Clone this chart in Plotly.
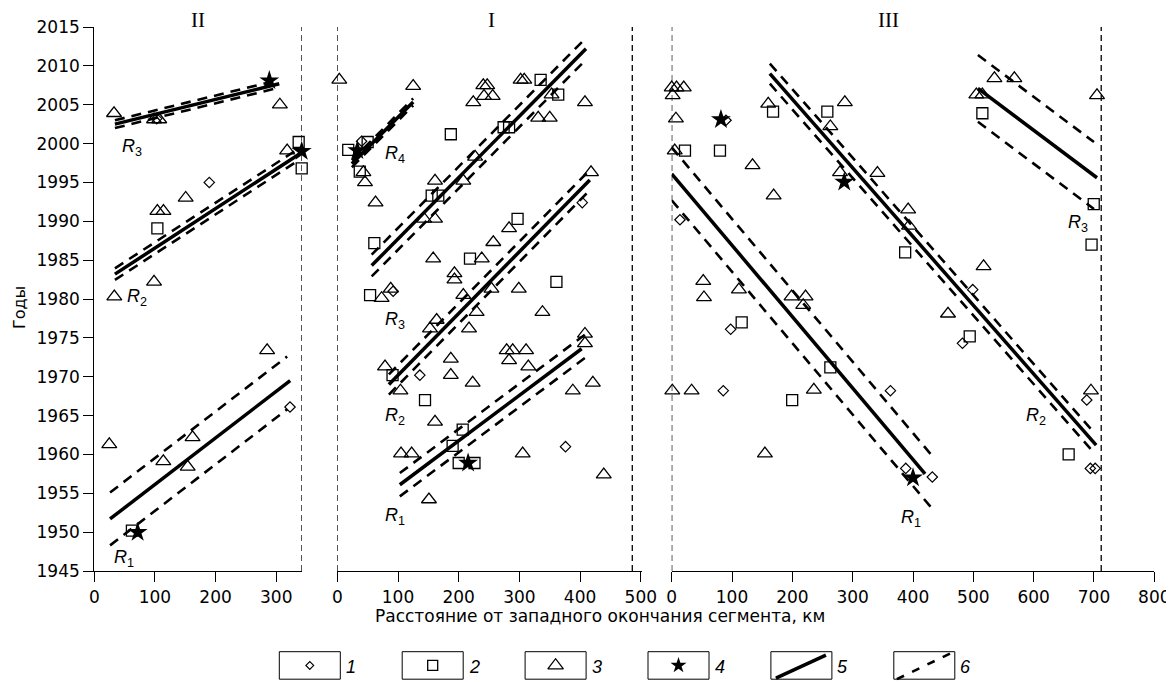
import plotly.graph_objects as go

W, H = 1174, 682          # reference picture size
OFF = 8                   # page body margin of the browser
FW, FH = W - OFF, H - OFF  # figure size


def fx(x):
    return (x - OFF) / FW


def fy(y):
    return 1 - (y - OFF) / FH


# ---------------- data (km from western end of segment, year) ----------------
# Panel II
II_diam_x = [103, 189.6, 322.7]
II_diam_y = [2003.2, 1995.0, 1966.1]
II_sq_x = [104, 337, 342, 62]
II_sq_y = [1989.1, 2000.2, 1996.8, 1950.2]
II_tri_x = [32.5, 98.5, 107, 306, 318, 356, 349, 150.7, 104, 114, 98.5, 33, 285, 162, 24.7, 113.8, 154]
II_tri_y = [2003.9, 2003.1, 2003.1, 2005.0, 1999.1, 1996.3, 1995.3, 1993.0, 1991.3, 1991.3,
            1982.2, 1980.3, 1973.4, 1962.2, 1961.3, 1959.1, 1958.4]
II_star_x = [288.6, 342, 71.5]
II_star_y = [2008.1, 1999.0, 1950.0]

# Panel I
I_diam_x = [40, 92, 136, 403.6, 376]
I_diam_y = [2000.3, 1981.0, 1970.2, 1992.4, 1961.0]
I_sq_x = [18, 50, 37, 61, 54, 187, 274, 283, 335, 364, 155.5, 166.4, 297, 218.6, 361, 91, 144.5, 206.6, 190, 200, 226]
I_sq_y = [1999.2, 2000.2, 1996.4, 1987.2, 1980.5, 2001.2, 2002.1, 2002.1, 2008.2, 2006.3, 1993.3, 1993.3,
          1990.3, 1985.2, 1982.2, 1970.2, 1967.0, 1963.2, 1961.1, 1958.9, 1958.9]
I_tri_x = [3.3, 125, 43, 45.6, 63, 158, 73, 88, 240.5, 247, 241.7, 256, 224, 302, 308, 353, 408, 331, 350,
           227, 161, 207.6, 143, 161, 418, 283, 257, 238, 193, 193, 254, 299, 207.6, 229.6, 338, 163.7,
           152.7, 217, 279, 289, 311, 283, 314.7, 187, 187, 78.6, 223, 104, 388, 421, 161, 105, 122.5,
           305.4, 439, 151, 408, 408]
I_tri_y = [2008.2, 2007.4, 1996.3, 1995.0, 1992.4, 1985.2, 1980.1, 1981.3, 2007.5, 2007.5, 2006.1, 2006.1,
           2005.3, 2008.2, 2008.2, 2006.3, 2005.3, 2003.3, 2003.3, 1998.3, 1995.2, 1995.2, 1990.3, 1990.3,
           1996.3, 1989.1, 1987.3, 1985.2, 1983.3, 1982.5, 1981.3, 1981.3, 1980.5, 1978.3, 1978.3, 1977.3,
           1976.2, 1976.2, 1973.4, 1973.4, 1973.4, 1972.1, 1971.3, 1972.3, 1970.2, 1971.3, 1969.2, 1968.2,
           1968.2, 1969.2, 1964.2, 1960.1, 1960.1, 1960.1, 1957.4, 1954.2, 1975.5, 1974.3]
I_star_x = [33, 215.5]
I_star_y = [1999.1, 1958.9]

# Panel III
III_diam_x = [90, 13.7, 97.7, 85.5, 362.6, 388, 432, 499, 482, 688, 694, 702]
III_diam_y = [2003.0, 1990.2, 1976.1, 1968.2, 1968.2, 1958.2, 1957.1, 1981.2, 1974.3, 1967.0, 1958.2, 1958.2]
III_sq_x = [22, 80, 168, 258, 387, 116, 515, 699.6, 696, 263, 199.7, 494, 658]
III_sq_y = [1999.1, 1999.1, 2004.1, 2004.1, 1986.0, 1977.0, 2003.9, 1992.2, 1987.0, 1971.2, 1967.0, 1975.2, 1960.0]
III_tri_x = [0, 8, 20, 1.6, 7, 5, 134, 169, 160, 287, 263, 279, 341, 392, 393.4, 517, 458, 198.7, 221.9, 218,
             52.3, 53.5, 111.4, 505, 515, 535, 568, 705, 1, 33, 235.6, 154.5, 695]
III_tri_y = [2007.2, 2007.2, 2007.2, 2006.2, 2003.2, 1999.1, 1997.2, 1993.3, 2005.1, 2005.3, 2002.2, 1996.3,
             1996.2, 1991.5, 1989.4, 1984.2, 1978.1, 1980.3, 1980.3, 1979.2, 1982.3, 1980.2, 1981.2, 2006.3,
             2006.3, 2008.4, 2008.4, 2006.2, 1968.2, 1968.2, 1968.3, 1960.1, 1968.2]
III_star_x = [81.6, 286, 400]
III_star_y = [2003.1, 1995.05, 1957.0]

# Segment boundaries (dashed verticals)
II_bounds = [342]
I_bounds = [0, 486]
III_bounds = [0, 712]

# Migration trends R (solid) and confidence band (dashed)
trend_panel = ['II', 'II', 'II', 'I', 'I', 'I', 'I', 'III', 'III', 'III']
trend_x0 = [26, 34, 34, 24, 56.6, 85, 103, 0, 162.7, 507.6]
trend_x1 = [323, 337, 305, 125, 409.7, 416, 402.6, 420, 703.6, 705]
trend_y0 = [1951.7, 1983.2, 2002.5, 1997.4, 1984.3, 1969.0, 1956.1, 1996.1, 2009.0, 2007.1]
trend_y1 = [1969.5, 1998.6, 2007.7, 2005.35, 2012.2, 1995.3, 1973.6, 1957.5, 1961.2, 1995.6]
band = [3.4, 0.75, 0.5, 0.45, 1.4, 1.3, 1.5, 3.4, 1.3, 4.3]
band_x0 = [26, 34, 34, 24, 56.6, 85, 103, 0, 162.7, 507.6]
band_x1 = [318, 337, 305, 125, 409.7, 416, 415, 432, 700, 700]

# R labels
lab_panel = ['II', 'II', 'II', 'I', 'I', 'I', 'I', 'III', 'III', 'III']
lab_text = ['1', '2', '3', '4', '3', '2', '1', '1', '2', '3']
lab_x = [49, 70.5, 61.7, 94.5, 94.5, 94.5, 94.5, 397, 604, 672.7]
lab_y = [1946.6, 1980.2, 1999.5, 1998.6, 1977.2, 1964.9, 1952.0, 1951.8, 1964.9, 1989.7]

panel_titles = ['II', 'I', 'III']
x_ticks = [[0, 100, 200, 300], [0, 100, 200, 300, 400, 500], [0, 100, 200, 300, 400, 500, 600, 700, 800]]
y_ticks = list(range(1945, 2016, 5))
legend_labels = ['1', '2', '3', '4', '5', '6']

# ---------------- figure ----------------
axmap = {'II': 'x', 'I': 'x2', 'III': 'x3'}
data = {
    'II': (II_diam_x, II_diam_y, II_sq_x, II_sq_y, II_tri_x, II_tri_y, II_star_x, II_star_y, II_bounds),
    'I': (I_diam_x, I_diam_y, I_sq_x, I_sq_y, I_tri_x, I_tri_y, I_star_x, I_star_y, I_bounds),
    'III': (III_diam_x, III_diam_y, III_sq_x, III_sq_y, III_tri_x, III_tri_y, III_star_x, III_star_y, III_bounds),
}

fig = go.Figure()
BLACK = 'black'

sty = {
    'diam': dict(symbol='diamond-open', size=8, color=BLACK, line=dict(width=1.2, color=BLACK)),
    'sq': dict(symbol='square-open', size=11, color=BLACK, line=dict(width=1.3, color=BLACK)),
    'tri': dict(symbol='triangle-up-open', size=13, color=BLACK, line=dict(width=1.3, color=BLACK)),
    'star': dict(symbol='star', size=15, color=BLACK, line=dict(width=0, color=BLACK)),
}

# boundaries
for p, (dx, dy, sx, sy, tx, ty, stx, sty_, bnd) in data.items():
    for b in bnd:
        fig.add_trace(go.Scatter(x=[b, b], y=[1945, 2015.3], mode='lines', xaxis=axmap[p], yaxis='y',
                                 line=dict(color=BLACK, width=1.3, dash='6px,4px'), cliponaxis=False,
                                 hoverinfo='skip'))

# trend lines
for i, p in enumerate(trend_panel):
    slope = (trend_y1[i] - trend_y0[i]) / (trend_x1[i] - trend_x0[i])
    fig.add_trace(go.Scatter(x=[trend_x0[i], trend_x1[i]], y=[trend_y0[i], trend_y1[i]], mode='lines',
                             xaxis=axmap[p], yaxis='y', line=dict(color=BLACK, width=3.5),
                             cliponaxis=False, hoverinfo='skip'))
    for s in (1, -1):
        xs = [band_x0[i], band_x1[i]]
        ys = [trend_y0[i] + (xv - trend_x0[i]) * slope + s * band[i] for xv in xs]
        fig.add_trace(go.Scatter(x=xs, y=ys, mode='lines', xaxis=axmap[p], yaxis='y',
                                 line=dict(color=BLACK, width=2.6, dash='10px,7px'),
                                 cliponaxis=False, hoverinfo='skip'))

# points
for p, (dx, dy, sx, sy, tx, ty, stx, sty_, bnd) in data.items():
    for xs, ys, key in ((dx, dy, 'diam'), (sx, sy, 'sq'), (tx, ty, 'tri'), (stx, sty_, 'star')):
        fig.add_trace(go.Scatter(x=xs, y=ys, mode='markers', xaxis=axmap[p], yaxis='y',
                                 marker=sty[key], cliponaxis=False, hoverinfo='skip'))

# ---------------- legend (pixel overlay axis, reference pixel coords) ----------------
box_w, box_h = 61, 27.5
box_left0, box_step, box_top = 279.3, 122.9, 651.7
legend_keys = ['diam', 'sq', 'tri', 'star', 'solid', 'dash']
leg_sizes = {'diam': 6, 'sq': 10, 'tri': 13.5, 'star': 12}
shapes = []
annotations = []
for k, key in enumerate(legend_keys):
    x0 = box_left0 + k * box_step
    cx, cy = x0 + box_w / 2, box_top + box_h / 2
    shapes.append(dict(type='rect', xref='x4', yref='y4', x0=x0, x1=x0 + box_w, y0=box_top, y1=box_top + box_h,
                       line=dict(color=BLACK, width=1)))
    if key in leg_sizes:
        m = dict(sty[key])
        m['size'] = leg_sizes[key]
        fig.add_trace(go.Scatter(x=[cx], y=[cy], mode='markers', xaxis='x4', yaxis='y4', marker=m,
                                 cliponaxis=False, hoverinfo='skip'))
    elif key == 'solid':
        fig.add_trace(go.Scatter(x=[x0 + 5, x0 + 55], y=[box_top + 26.5, box_top + 3.5], mode='lines',
                                 xaxis='x4', yaxis='y4', line=dict(color=BLACK, width=3.5),
                                 cliponaxis=False, hoverinfo='skip'))
    else:
        fig.add_trace(go.Scatter(x=[x0 + 3, x0 + 57], y=[box_top + 27.5, box_top + 1.5], mode='lines',
                                 xaxis='x4', yaxis='y4', line=dict(color=BLACK, width=2.6, dash='8px,9px'),
                                 cliponaxis=False, hoverinfo='skip'))
    annotations.append(dict(xref='x4', yref='y4', x=x0 + box_w + 11, y=cy + 1.5, text=legend_labels[k],
                            showarrow=False, xanchor='center', yanchor='middle',
                            font=dict(family='Liberation Sans', size=18, color=BLACK, style='italic')))

# R labels
for p, t, lx, ly in zip(lab_panel, lab_text, lab_x, lab_y):
    annotations.append(dict(xref=axmap[p], yref='y', x=lx, y=ly, text='<i>R</i><sub>' + t + '</sub>',
                            showarrow=False, xanchor='center', yanchor='middle',
                            font=dict(family='Liberation Sans', size=18, color=BLACK)))

# panel titles
for t, px_ in zip(panel_titles, [198, 491, 888]):
    annotations.append(dict(xref='paper', yref='paper', x=fx(px_), y=fy(20), text=t, showarrow=False,
                            xanchor='center', yanchor='middle',
                            font=dict(family='Liberation Serif', size=21, color=BLACK)))

annotations.append(dict(xref='paper', yref='paper', x=fx(8.5), y=fy(308), text='Годы', textangle=-90,
                        showarrow=False, xanchor='left', yanchor='middle', borderpad=0,
                        font=dict(family='DejaVu Sans', size=16, color=BLACK)))
annotations.append(dict(xref='paper', yref='paper', x=fx(600), y=fy(616),
                        text='Расстояние от западного окончания сегмента, км', showarrow=False,
                        xanchor='center', yanchor='middle',
                        font=dict(family='DejaVu Sans', size=17, color=BLACK)))

common = dict(showline=True, linecolor=BLACK, linewidth=1.2, ticks='outside', ticklen=10, tickwidth=1.2,
              tickcolor=BLACK, showgrid=False, zeroline=False, fixedrange=True,
              tickfont=dict(family='DejaVu Sans', size=17, color=BLACK))

fig.update_layout(
    width=FW, height=FH, margin=dict(l=0, r=0, t=0, b=0, autoexpand=False),
    paper_bgcolor='white', plot_bgcolor='rgba(0,0,0,0)', showlegend=False,
    font=dict(family='DejaVu Sans', size=16, color=BLACK),
    xaxis=dict(domain=[fx(94.3), fx(301.7)], range=[0, 342], tickvals=x_ticks[0], anchor='y', **common),
    xaxis2=dict(domain=[fx(337.3), fx(641.7)], range=[0, 501.5], tickvals=x_ticks[1], anchor='y', **common),
    xaxis3=dict(domain=[fx(671.7), fx(1154.3)], range=[0, 800], tickvals=x_ticks[2], anchor='y', **common),
    yaxis=dict(domain=[fy(571), fy(27)], range=[1945, 2015], tickvals=y_ticks, anchor='x', **common),
    xaxis4=dict(domain=[0, 1], range=[OFF, W], visible=False, anchor='y4', fixedrange=True),
    yaxis4=dict(domain=[0, 1], range=[H, OFF], visible=False, anchor='x4', fixedrange=True),
    shapes=shapes, annotations=annotations,
)

fig.write_html('out.html')
